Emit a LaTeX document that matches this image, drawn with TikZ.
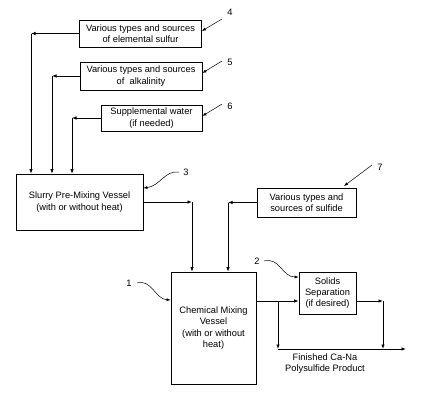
\documentclass[tikz,border=0pt]{standalone}
\usepackage{fontspec}
\setmainfont{Liberation Sans}
\usetikzlibrary{arrows.meta}
\begin{document}
\begin{tikzpicture}[x=1pt,y=-1pt,
  font=\fontsize{9.3}{11.3}\selectfont,
  box/.style={draw,line width=0.8pt,inner sep=0pt,align=center},
  arr/.style={line width=0.8pt,-{Latex[length=4.5pt,width=3.5pt]}},
  lead/.style={line width=0.5pt,-{Latex[length=4pt,width=3pt]}},
  num/.style={inner sep=0pt}]
\useasboundingbox (0,0) rectangle (436,400);
% boxes
\node[box,minimum width=122pt,minimum height=27pt] (b4) at (140.5,33.5) {Various types and sources\\of elemental sulfur};
\node[box,minimum width=122pt,minimum height=28pt] (b5) at (141,76) {Various types and sources\\of\ \ alkalinity};
\node[box,minimum width=101pt,minimum height=26pt] (b6) at (151.5,118) {Supplemental water\\(if needed)};
\node[box,minimum width=127pt,minimum height=56pt] (slurry) at (79.5,202) {Slurry Pre-Mixing Vessel\\(with or without heat)};
\node[box,minimum width=99pt,minimum height=29pt] (sulf) at (306.5,202.5) {Various types and\\sources of sulfide};
\node[box,minimum width=85pt,minimum height=112pt] (chem) at (213.5,328) {Chemical Mixing\\Vessel\\(with or without\\heat)};
\node[box,minimum width=57pt,minimum height=42pt] (sol) at (327.5,293) {Solids\\Separation\\(if desired)};
\node[align=center,inner sep=0pt] (prod) at (325,363.5) {Finished Ca-Na\\Polysulfide Product};
% numbers
\node[num] (n4) at (230,12) {4};
\node[num] (n5) at (230,62) {5};
\node[num] (n6) at (230,106) {6};
\node[num] (n3) at (186,172) {3};
\node[num] (n7) at (380,167) {7};
\node[num] (n1) at (129,283) {1};
\node[num] (n2) at (257,261) {2};
% corner coordinates
\coordinate (c4) at (31,33.5);
\coordinate (c5) at (52,76);
\coordinate (c6) at (72,118);
\coordinate (c3) at (192,202);
\coordinate (c7) at (228,202.5);
\coordinate (j) at (278,301);
\coordinate (jb) at (278,349);
\coordinate (k) at (383,301);
\coordinate (e) at (406,349);
% connectors
\draw[arr] (b4.west) -- (c4);
\draw[arr] (c4) -- (c4 |- slurry.north);
\draw[arr] (b5.west) -- (c5);
\draw[arr] (c5) -- (c5 |- slurry.north);
\draw[arr] (b6.west) -- (c6);
\draw[arr] (c6) -- (c6 |- slurry.north);
\draw[arr] (slurry.east) -- (c3);
\draw[arr] (c3) -- (c3 |- chem.north);
\draw[arr] (sulf.west) -- (c7);
\draw[arr] (c7) -- (c7 |- chem.north);
\draw[arr] (chem.east |- j) -- (sol.west |- j);
\draw[arr] (j) -- (jb);
\draw[arr] (jb) -- (e);
\draw[arr] (sol.east |- k) -- (k);
\draw[arr] (k) -- (k |- jb);
% leaders
\draw[lead] (222,19) -- (b4.east |- 0,31);
\draw[lead] (222,61) -- (b5.east |- 0,73);
\draw[lead] (222,104) -- (b6.east |- 0,116);
\draw[lead] (372,165) -- (344,186);
\draw[lead] (179,172) .. controls (165,170) and (160,186) .. (slurry.east |- 0,188);
\draw[lead] (137,283) .. controls (152,279) and (155,299) .. (chem.west |- 0,300);
\draw[lead] (264,261) .. controls (280,257) and (282,277) .. (sol.west |- 0,277);
\end{tikzpicture}
\end{document}
